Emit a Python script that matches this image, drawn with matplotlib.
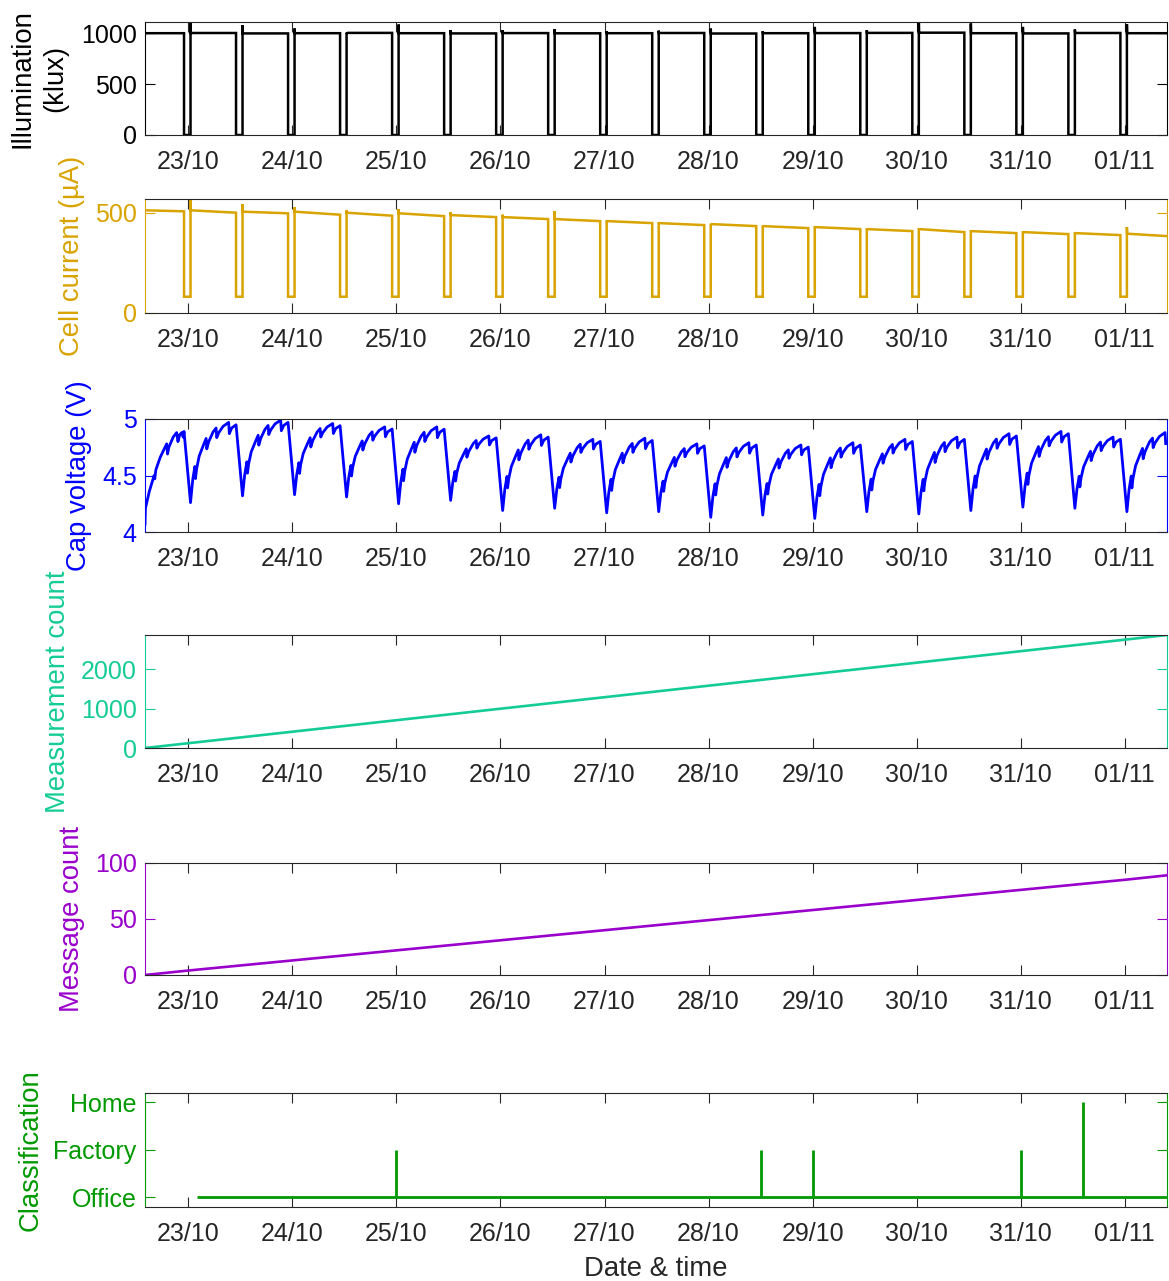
import matplotlib
matplotlib.use('Agg')
import matplotlib.pyplot as plt
import matplotlib.dates as mdates
import pandas as pd

plt.rcParams['font.family'] = ['Liberation Sans', 'DejaVu Sans']
plt.rcParams['font.size'] = 18
plt.rcParams['axes.labelsize'] = 19.8

t_start = pd.Timestamp('2023-10-22 14:00')
t_end = pd.Timestamp('2023-11-01 09:45')

# dark periods (lights back on 1.5 h later)
dark_start = ['2023-10-22 23:00', '2023-10-23 11:00', '2023-10-23 23:00', '2023-10-24 11:00',
              '2023-10-24 23:00', '2023-10-25 11:00', '2023-10-25 23:00', '2023-10-26 11:00',
              '2023-10-26 23:00', '2023-10-27 11:00', '2023-10-27 23:00', '2023-10-28 11:00',
              '2023-10-28 23:00', '2023-10-29 11:00', '2023-10-29 23:00', '2023-10-30 11:00',
              '2023-10-30 23:00', '2023-10-31 11:00', '2023-10-31 23:00']
dark_hours = 1.5

# illumination (klux): level per light period, overshoot when light comes on
illum_level = [1000, 1002, 998, 1000, 1003, 1000, 998, 1001, 999, 1000,
               1002, 997, 1000, 1001, 1003, 1005, 1000, 998, 1002, 1000]
illum_spike = [1110, 1078, 1046, 1007, 1085, 1030, 1030, 1040, 1020, 1025,
               1045, 1020, 1062, 1029, 1110, 1095, 1062, 1036, 1088]

# cell current (uA): level at start / end of each light period
current_start = [512, 512, 505, 505, 500, 497, 488, 478, 468, 458,
                 448, 443, 433, 428, 418, 418, 408, 403, 398, 395]
current_end = [507, 500, 497, 490, 485, 483, 478, 468, 458, 448,
               438, 433, 423, 418, 408, 403, 398, 393, 388, 383]
current_spike = [567, 543, 528, 512, 518, 502, 490, 508, 462, 452,
                 445, 436, 432, 422, 422, 412, 407, 402, 428]
current_dark = 80

# cap voltage (V): first partial day, then trough / peak of every charge cycle
cap_first_h = [0.0, 0.1, 1.0, 2.1, 2.25, 2.5, 3.5, 5.0, 5.2, 5.5, 6.5, 7.3, 7.6, 8.0, 8.5, 8.8, 9.0]
cap_first_v = [4.07, 4.21, 4.36, 4.50, 4.47, 4.55, 4.66, 4.78, 4.69, 4.75, 4.84, 4.88, 4.80, 4.86, 4.88, 4.84, 4.89]
cap_trough = [4.26, 4.32, 4.33, 4.31, 4.25, 4.28, 4.19, 4.21, 4.17, 4.18,
              4.13, 4.15, 4.12, 4.18, 4.16, 4.19, 4.22, 4.21, 4.18]
cap_peak = [4.97, 4.99, 4.96, 4.93, 4.93, 4.85, 4.86, 4.82, 4.83, 4.78,
            4.79, 4.77, 4.79, 4.82, 4.84, 4.87, 4.89, 4.84, 4.88]
# shape of one charge cycle: hours after lights on, fraction of trough->peak
cap_shape_h = [0.0, 0.5, 1.0, 1.15, 1.4, 2.0, 3.0, 3.6, 3.75, 4.2, 5.2, 5.9, 6.05, 6.5, 7.5, 8.8, 8.95, 9.5, 10.5]
cap_shape_f = [0.0, 0.28, 0.45, 0.30, 0.42, 0.58, 0.72, 0.80, 0.67, 0.76, 0.88, 0.93, 0.81, 0.87, 0.95, 1.00, 0.86, 0.93, 0.97]

meas_time = ['2023-10-22 14:00', '2023-10-27 00:00', '2023-11-01 09:45']
meas_count = [0, 1290, 2870]

msg_time = ['2023-10-22 14:00', '2023-10-23 00:00', '2023-10-24 00:00', '2023-10-25 00:00',
            '2023-10-26 00:00', '2023-10-27 00:00', '2023-10-28 00:00', '2023-10-29 00:00',
            '2023-10-30 00:00', '2023-10-31 00:00', '2023-11-01 00:00', '2023-11-01 09:45']
msg_count = [0, 4, 13, 22, 31, 40, 49, 58, 67, 76, 85, 89]

class_names = ['Office', 'Factory', 'Home']
class_start = '2023-10-23 02:00'
class_event_time = ['2023-10-25 00:00', '2023-10-28 12:00', '2023-10-29 00:00',
                    '2023-10-31 00:00', '2023-10-31 14:20']
class_event_value = [1, 1, 1, 1, 2]

day_ticks = pd.date_range('2023-10-23', '2023-11-01', freq='D')

dark_on = pd.to_datetime(dark_start)
light_on = dark_on + pd.Timedelta(hours=dark_hours)


def square_wave(lev_start, lev_end, spikes, low):
    t = [t_start]
    v = [lev_start[0]]
    for i in range(len(dark_on)):
        t += [dark_on[i], dark_on[i], light_on[i], light_on[i], light_on[i] + pd.Timedelta(minutes=3)]
        v += [lev_end[i], low, low, spikes[i], lev_start[i + 1]]
    t.append(t_end)
    v.append(lev_end[-1])
    return t, v


illum_t, illum_v = square_wave(illum_level, illum_level, illum_spike, 0)
cur_t, cur_v = square_wave(current_start, current_end, current_spike, current_dark)

cap_t = [t_start + pd.Timedelta(hours=h) for h in cap_first_h]
cap_v = list(cap_first_v)
for i in range(len(light_on)):
    lo, hi = cap_trough[i], cap_peak[i]
    for h, f in zip(cap_shape_h, cap_shape_f):
        tt = light_on[i] + pd.Timedelta(hours=h)
        if tt > t_end:
            break
        cap_t.append(tt)
        cap_v.append(lo + f * (hi - lo))

# panel rectangles in pixels (top, bottom), figure 1169 x 1281
W, H = 1169, 1281
left_px, right_px = 145, 1167
rows = [(22, 135), (199.3, 312.7), (419, 532), (635, 748), (863, 975), (1093, 1206.7)]

fig = plt.figure(figsize=(W / 100, H / 100), dpi=100)
axes = []
for top, bot in rows:
    ax = fig.add_axes([left_px / W, 1 - bot / H, (right_px - left_px) / W, (bot - top) / H])
    axes.append(ax)

dark = '#262626'
colors = ['black', '#D9A300', '#0000FF', '#14CC96', '#9A00CC', '#009900']
lpad = 7

axes[0].plot(illum_t, illum_v, color=colors[0], lw=1.8, solid_joinstyle='miter')
axes[0].set_ylim(0, 1110)
axes[0].set_yticks([0, 500, 1000])
axes[0].set_ylabel('Illumination\n(klux)', color=colors[0], multialignment='center',
                   linespacing=1.35, labelpad=lpad + 2)

axes[1].plot(cur_t, cur_v, color=colors[1], lw=1.8, solid_joinstyle='miter')
axes[1].set_ylim(0, 567)
axes[1].set_yticks([0, 500])
axes[1].set_ylabel('Cell current (µA)', color=colors[1], labelpad=lpad)

axes[2].plot(cap_t, cap_v, color=colors[2], lw=2.0)
axes[2].set_ylim(4, 5)
axes[2].set_yticks([4, 4.5, 5])
axes[2].set_yticklabels(['4', '4.5', '5'])
axes[2].set_ylabel('Cap voltage (V)', color=colors[2], labelpad=lpad)

axes[3].plot(pd.to_datetime(meas_time), meas_count, color=colors[3], lw=1.9)
axes[3].set_ylim(0, 2870)
axes[3].set_yticks([0, 1000, 2000])
axes[3].set_ylabel('Measurement count', color=colors[3], labelpad=lpad)

axes[4].plot(pd.to_datetime(msg_time), msg_count, color=colors[4], lw=1.9)
axes[4].set_ylim(0, 100)
axes[4].set_yticks([0, 50, 100])
axes[4].set_ylabel('Message count', color=colors[4], labelpad=lpad)

axes[5].hlines(0, pd.Timestamp(class_start), t_end, color=colors[5], lw=2.0)
axes[5].vlines(pd.to_datetime(class_event_time), 0, class_event_value, color=colors[5], lw=2.0)
axes[5].set_ylim(-0.2, 2.2)
axes[5].set_yticks([0, 1, 2])
axes[5].set_yticklabels(class_names)
axes[5].set_ylabel('Classification', color=colors[5], labelpad=lpad)
axes[5].set_xlabel('Date & time', color=dark, labelpad=7)

for ax, c in zip(axes, colors):
    ax.set_xlim(t_start, t_end)
    ax.set_xticks(day_ticks)
    ax.xaxis.set_major_formatter(mdates.DateFormatter('%d/%m'))
    ax.tick_params(axis='x', direction='in', top=True, length=7, width=0.8,
                   colors=dark, pad=11)
    ax.tick_params(axis='y', direction='in', right=True, length=7.5, width=0.8,
                   colors=c, pad=6)
    for s in ['top', 'bottom']:
        ax.spines[s].set_color(dark)
        ax.spines[s].set_linewidth(0.8)
    for s in ['left', 'right']:
        ax.spines[s].set_color(c)
        ax.spines[s].set_linewidth(0.8)

fig.savefig('out.png', dpi=100)
